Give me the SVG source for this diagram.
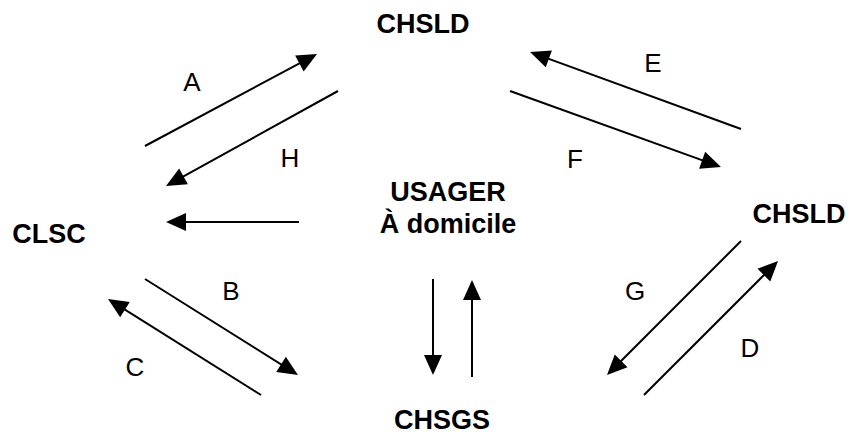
<svg xmlns="http://www.w3.org/2000/svg" width="852" height="436" viewBox="0 0 852 436">
  <style>
    .node { font-family: "Liberation Sans", Arial, sans-serif; font-weight: bold; font-size: 27px; fill: #000; text-anchor: middle; }
    .lbl { font-family: "Liberation Sans", Arial, sans-serif; font-size: 26px; fill: #000; text-anchor: middle; }
    .arrow { stroke: #000; stroke-width: 2; fill: none; marker-end: url(#head); }
  </style>
  <defs>
    <marker id="head" markerUnits="userSpaceOnUse" markerWidth="20" markerHeight="18" refX="16" refY="9" orient="auto" overflow="visible">
      <path d="M0,0 L20,9 L0,18 Z" fill="#000"/>
    </marker>
  </defs>
  <rect width="852" height="436" fill="#fff"/>

  <g id="node-chsld-top"><text class="node" x="423" y="33">CHSLD</text></g>
  <g id="node-chsld-right"><text class="node" x="799" y="223">CHSLD</text></g>
  <g id="node-clsc"><text class="node" x="49" y="243">CLSC</text></g>
  <g id="node-usager">
    <text class="node" x="448" y="201">USAGER</text>
    <text class="node" x="448" y="233">À domicile</text>
  </g>
  <g id="node-chsgs"><text class="node" x="442" y="429">CHSGS</text></g>

  <g id="connectors">
    <line class="arrow" x1="145" y1="146" x2="313.5" y2="55.9"/>
    <line class="arrow" x1="338" y1="91" x2="169.5" y2="184.1"/>
    <line class="arrow" x1="741" y1="129" x2="533.8" y2="53.4"/>
    <line class="arrow" x1="510" y1="91" x2="717.2" y2="165.6"/>
    <line class="arrow" x1="299" y1="222" x2="170" y2="222"/>
    <line class="arrow" x1="145" y1="279" x2="294.6" y2="372.9"/>
    <line class="arrow" x1="261" y1="395" x2="111.4" y2="301.1"/>
    <line class="arrow" x1="741" y1="241" x2="609.8" y2="372.2"/>
    <line class="arrow" x1="644" y1="395" x2="775.2" y2="263.8"/>
    <line class="arrow" x1="433" y1="279" x2="433" y2="371"/>
    <line class="arrow" x1="472" y1="377" x2="472" y2="284"/>
  </g>

  <g id="labels">
    <text class="lbl" x="192" y="91">A</text>
    <text class="lbl" x="290" y="167">H</text>
    <text class="lbl" x="653" y="72">E</text>
    <text class="lbl" x="575" y="168">F</text>
    <text class="lbl" x="231" y="300">B</text>
    <text class="lbl" x="135" y="376">C</text>
    <text class="lbl" x="635" y="300">G</text>
    <text class="lbl" x="750" y="357">D</text>
  </g>
</svg>
